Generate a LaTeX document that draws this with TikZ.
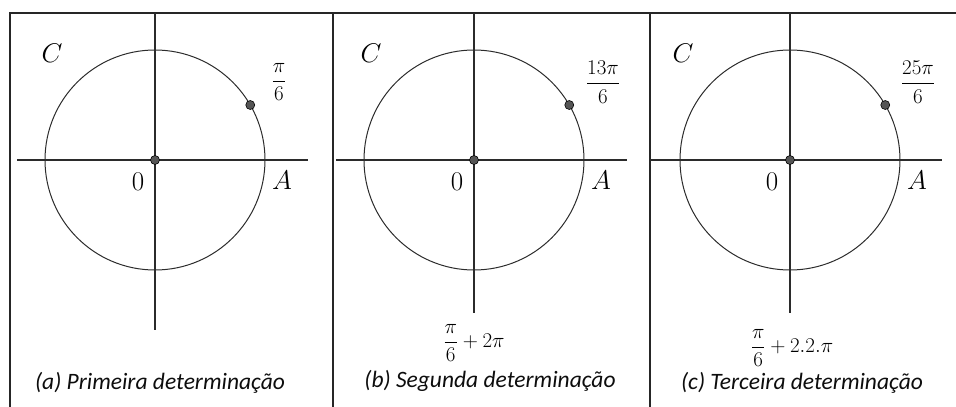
\RequirePackage{fix-cm}
\documentclass[tikz,border=0pt]{standalone}
\usepackage{amsmath}
\usepackage{fontspec}
\newfontfamily\capfont{Carlito}
\usetikzlibrary{positioning}
\definecolor{Ink}{HTML}{2B2B2B}
\definecolor{DotGray}{HTML}{555555}
\tikzset{
  frameline/.style={line width=1.4pt, black!85},
  axisline/.style={line width=1.1pt, Ink},
  unitcircle/.style={line width=1pt, Ink},
  marker/.style={circle, draw=black, fill=DotGray, line width=0.6pt,
                 inner sep=0pt, minimum size=9pt},
  ptlabel/.style={font=\fontsize{27}{30}\selectfont, inner sep=0pt},
  arclabel/.style={font=\fontsize{21}{25}\selectfont, inner sep=0pt},
  caption/.style={font=\capfont\itshape\fontsize{23.5}{28}\selectfont,
                  text=black!95, inner sep=0pt},
}

\begin{document}
\begin{tikzpicture}[x=1pt, y=-1pt]
  \useasboundingbox (0,0) rectangle (956,407);
  % frame
  \draw[frameline] (10,407) -- (10,13) -- (956,13);
  \draw[frameline] (333,13) -- (333,407);
  \draw[frameline] (650,13) -- (650,407);

  % (a)
  \begin{scope}[shift={(155,160)}]
    \draw[unitcircle] (0,0) circle (110);
    \draw[axisline] (-138,0) -- (153,0);
    \draw[axisline] (0,-147) -- (0,170);
    \node[marker] (Oa) at (0,0) {};
    \node[marker] (Pa) at (-30:110) {};
    \node[ptlabel] (Ca) at (-103,-107) {$C$};
    \node[ptlabel] (Za) at (-17,22) {$0$};
    \node[ptlabel] (Aa) at (127,20) {$A$};
    \node[arclabel] (La) at (124,-78) {$\dfrac{\pi}{6}$};
  \end{scope}
  \node[caption] (capa) at (160,383) {(a) Primeira determinação};

  % (b)
  \begin{scope}[shift={(474,160)}]
    \draw[unitcircle] (0,0) circle (110);
    \draw[axisline] (-138,0) -- (153,0);
    \draw[axisline] (0,-147) -- (0,153);
    \node[marker] (Ob) at (0,0) {};
    \node[marker] (Pb) at (-30:110) {};
    \node[ptlabel] (Cb) at (-103,-107) {$C$};
    \node[ptlabel] (Zb) at (-17,22) {$0$};
    \node[ptlabel] (Ab) at (127,20) {$A$};
    \node[arclabel] (Lb) at (129,-78) {$\dfrac{13\pi}{6}$};
    \node[arclabel] (Sb) at (0,183) {$\dfrac{\pi}{6}+2\pi$};
  \end{scope}
  \node[caption] (capb) at (490,381) {(b) Segunda determinação};

  % (c)
  \begin{scope}[shift={(790,160)}]
    \draw[unitcircle] (0,0) circle (110);
    \draw[axisline] (-140,0) -- (152,0);
    \draw[axisline] (0,-147) -- (0,153);
    \node[marker] (Oc) at (0,0) {};
    \node[marker] (Pc) at (-30:110) {};
    \node[ptlabel] (Cc) at (-107,-107) {$C$};
    \node[ptlabel] (Zc) at (-18,22) {$0$};
    \node[ptlabel] (Ac) at (127,20) {$A$};
    \node[arclabel] (Lc) at (128,-78) {$\dfrac{25\pi}{6}$};
    \node[arclabel] (Sc) at (2,188) {$\dfrac{\pi}{6}+2.2.\pi$};
  \end{scope}
  \node[caption] (capc) at (802,383) {(c) Terceira determinação};
\end{tikzpicture}
\end{document}
